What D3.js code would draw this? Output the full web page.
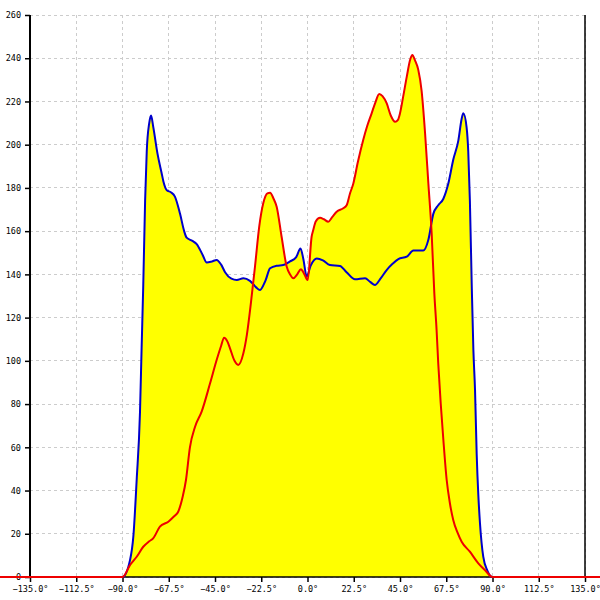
<!DOCTYPE html>
<html>
<head>
<meta charset="utf-8">
<script src="https://cdn.jsdelivr.net/npm/d3@7"></script>
<style>
  html, body { margin: 0; padding: 0; background: #fff; }
  svg { display: block; }
</style>
</head>
<body>
<svg id="chart" width="600" height="600"></svg>
<script>
// ---- data ----
const xTicks = [-135, -112.5, -90, -67.5, -45, -22.5, 0, 22.5, 45, 67.5, 90, 112.5, 135];
const yTicks = [0, 20, 40, 60, 80, 100, 120, 140, 160, 180, 200, 220, 240, 260];

const blueAngles = [-150, -90, -86.3, -84.7, -83.1, -81.5, -80.7, -79.9, -79, -78.2, -77, -76.1, -75, -73, -71, -70.1, -68.5, -66.5, -64.5, -62, -60, -58.8, -56, -53.9, -51, -49, -46.5, -44.2, -42, -40.1, -37, -34.4, -31.2, -28, -25, -23.1, -20.5, -18.2, -15, -11.8, -8.5, -5.5, -3.4, -2, -0.4, 1.5, 4.5, 7.5, 10.9, 15.8, 19, 23.1, 28, 30.5, 32.8, 35.5, 38.5, 41.5, 44.2, 48.3, 51.5, 54, 56.3, 58.8, 61.2, 63.6, 66.1, 68.5, 70.9, 73.4, 75, 75.8, 77.4, 78.2, 79, 79.9, 80.7, 81.5, 82.3, 83.1, 83.9, 85.5, 87.5, 90, 150];
const blueValues = [0, 0, 8, 19, 45, 76, 106, 135, 174, 197, 210, 213.5, 208, 196, 187, 183, 179, 178, 176, 168, 160, 157, 155.5, 154, 149, 145.5, 146, 146.7, 144.5, 141, 138, 137.4, 138.2, 137, 134, 132.8, 137, 142.8, 144, 144.3, 146, 148, 152, 147, 139, 144, 147.4, 146.5, 144.3, 143.9, 141, 137.7, 138.2, 136.5, 135.1, 138, 142, 145, 147.1, 148.2, 151, 151, 151, 156, 168, 172, 175, 182, 193, 202, 212, 214.5, 208, 197, 174, 135, 105, 86.5, 57, 38, 25, 9.4, 3, 0, 0];

const redAngles = [-150, -90, -86.3, -83, -79.9, -77, -75, -71.8, -67.7, -65, -62.9, -60.7, -59.1, -57.2, -54.7, -51.5, -47.4, -44.2, -42, -40.6, -39, -37.7, -35.5, -33.7, -31.2, -29.5, -27.5, -25.5, -23.5, -21.5, -19.5, -18.2, -16.5, -15, -12.6, -10.1, -8.5, -6.9, -5, -3.2, -1.5, 0.1, 2, 2.8, 4, 6.1, 8, 10.1, 12, 14.2, 17.4, 19.1, 20.7, 22.3, 24.5, 27.1, 29, 31.2, 33, 34.9, 36.5, 38.5, 40.5, 42.6, 44, 45, 46.5, 48.3, 50, 51, 52.3, 53.9, 55.5, 57.2, 58.8, 60.4, 61.7, 62.8, 63.6, 64.8, 66.1, 67.7, 69.3, 70.9, 73, 75, 79, 83.1, 86.5, 90, 150];
const redValues = [0, 0, 5.6, 9.5, 14, 16.5, 18, 23.3, 25.6, 28, 30.2, 37.2, 45, 60, 69.5, 76.5, 89.6, 100.4, 107, 110.7, 109, 105.8, 100, 98.1, 103.5, 112, 127, 144, 162, 173, 177.5, 177.8, 175, 171.3, 157.4, 143.5, 140, 138.2, 140, 142.4, 140, 137.4, 157.4, 160.5, 164.5, 166.2, 165.5, 164.4, 166.5, 169, 170.6, 172.1, 177.5, 182.1, 192, 202.2, 208.5, 214.5, 219.5, 223.5, 222.5, 219.2, 213.5, 210.6, 211.5, 214.5, 222, 231.5, 239.5, 241.5, 239, 234.6, 225, 205.3, 182.1, 159, 131.2, 114.3, 98.9, 80.4, 63.4, 45, 34, 26.4, 20.5, 16.3, 11.7, 6.3, 3, 0, 0];

// ---- chart ----
const svg = d3.select("#chart");
const x = d3.scaleLinear().domain([-135, 135]).range([30, 585]);
const y = d3.scaleLinear().domain([0, 260]).range([577, 15]);

const blue = blueAngles.map((a, i) => [a, blueValues[i]]);
const red = redAngles.map((a, i) => [a, redValues[i]]);

// grid
const grid = svg.append("g");
grid.selectAll("line.v").data(xTicks).enter().append("line")
  .attr("x1", d => x(d)).attr("x2", d => x(d))
  .attr("y1", y(260)).attr("y2", y(0))
  .attr("stroke", "#cccccc").attr("stroke-dasharray", "3,3").attr("stroke-width", 1)
  .attr("shape-rendering", "crispEdges");
grid.selectAll("line.h").data(yTicks).enter().append("line")
  .attr("x1", x(-135)).attr("x2", x(135))
  .attr("y1", d => y(d)).attr("y2", d => y(d))
  .attr("stroke", "#cccccc").attr("stroke-dasharray", "3,3").attr("stroke-width", 1)
  .attr("shape-rendering", "crispEdges");

// areas
const area = d3.area().x(d => x(d[0])).y0(y(0)).y1(d => y(d[1])).curve(d3.curveMonotoneX);
svg.append("path").datum(blue).attr("d", area).attr("fill", "#ffff00");
svg.append("path").datum(red).attr("d", area).attr("fill", "#ffff00");

// axes
const font = "'DejaVu Sans Mono', monospace";
const yAxis = svg.append("g").attr("transform", `translate(${x(-135)},0)`)
  .call(d3.axisLeft(y).tickValues(yTicks).tickSize(5).tickPadding(4).tickFormat(d3.format("d")));
const xAxis = svg.append("g").attr("transform", `translate(0,${y(0)})`)
  .call(d3.axisBottom(x).tickValues(xTicks).tickSize(5).tickPadding(4).tickFormat(d => d3.format(".1f")(d) + "°"));
[yAxis, xAxis].forEach(g => {
  g.selectAll("text").attr("font-family", font).attr("font-size", 8.5).attr("fill", "#000");
  g.selectAll("line").attr("stroke", "#000").attr("stroke-width", 1.5);
});
yAxis.select(".domain").attr("stroke", "#000").attr("stroke-width", 2).attr("d", `M0,${y(260)}V${y(0)}`);
xAxis.select(".domain").attr("stroke", "#000").attr("stroke-width", 1.5).attr("d", `M${x(-135)},0H${x(135)}`);
// right border
svg.append("line").attr("x1", x(135)).attr("x2", x(135)).attr("y1", y(260)).attr("y2", y(0))
  .attr("stroke", "#000").attr("stroke-width", 1.5);

// lines
const line = d3.line().x(d => x(d[0])).y(d => y(d[1])).curve(d3.curveMonotoneX);
svg.append("path").datum(blue).attr("d", line).attr("fill", "none").attr("stroke", "#0000cc").attr("stroke-width", 2);
svg.append("path").datum(red).attr("d", line).attr("fill", "none").attr("stroke", "#ee0000").attr("stroke-width", 2);
</script>
</body>
</html>
